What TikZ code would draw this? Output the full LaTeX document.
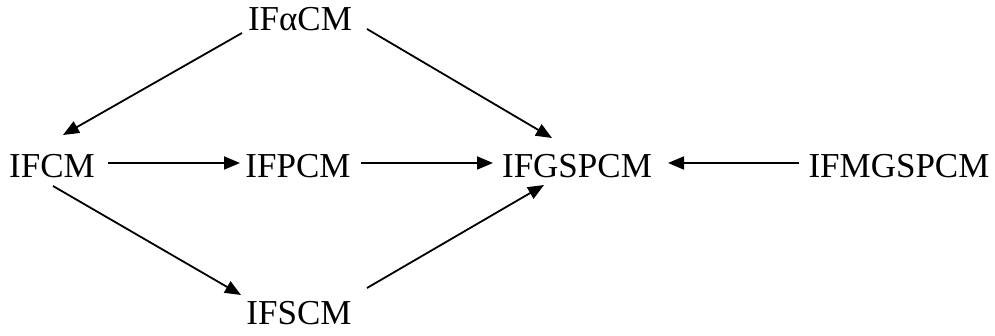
\documentclass[tikz,border=0pt]{standalone}
\usepackage{fontspec}
\setmainfont{Liberation Serif}
\usetikzlibrary{arrows.meta}

\begin{document}
\begin{tikzpicture}[x=1pt,y=-1pt,
  model/.style={inner sep=0pt,outer sep=0pt,font=\fontsize{35}{40}\selectfont},
  arr/.style={-{Triangle[length=16pt,width=13pt]},line width=1.8pt}]
 \useasboundingbox (0,0) rectangle (995,336);

 \node[model] (ifacm)    at (300,19)  {IFαCM};
 \node[model] (ifcm)     at (52,166)  {IFCM};
 \node[model] (ifpcm)    at (298,166) {IFPCM};
 \node[model] (ifgspcm)  at (577,166) {IFGSPCM};
 \node[model] (ifmgspcm) at (899,166) {IFMGSPCM};
 \node[model] (ifscm)    at (299,313) {IFSCM};

 % upper branch
 \draw[arr] ([shift={(-58,14)}]ifacm.center) -- ([shift={(11,-31)}]ifcm.center);
 \draw[arr] ([shift={(67,10)}]ifacm.center) -- ([shift={(-25,-28)}]ifgspcm.center);
 % middle row
 \draw[arr] ([shift={(56,-3)}]ifcm.center) -- ([shift={(-58,-3)}]ifpcm.center);
 \draw[arr] ([shift={(63,-3)}]ifpcm.center) -- ([shift={(-84,-3)}]ifgspcm.center);
 \draw[arr] ([shift={(-100,-3)}]ifmgspcm.center) -- ([shift={(91,-3)}]ifgspcm.center);
 % lower branch
 \draw[arr] ([shift={(1,20)}]ifcm.center) -- ([shift={(-58,-18)}]ifscm.center);
 \draw[arr] ([shift={(68,-25)}]ifscm.center) -- ([shift={(-33,19)}]ifgspcm.center);

\end{tikzpicture}
\end{document}
